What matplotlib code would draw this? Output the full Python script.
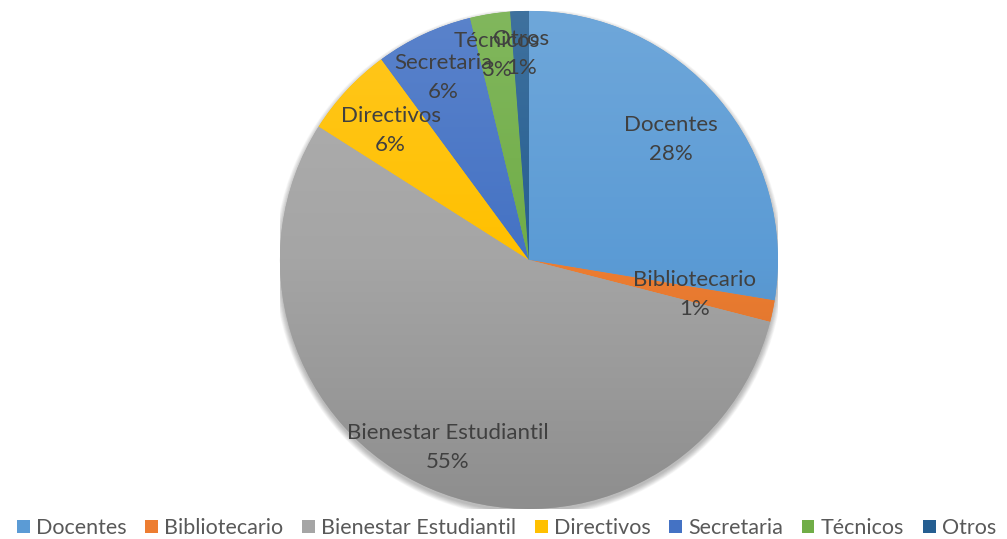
import numpy as np
import matplotlib.pyplot as plt
from matplotlib.colors import LinearSegmentedColormap, to_rgb
from matplotlib.patches import Circle, Patch

# data
labels = ['Docentes', 'Bibliotecario', 'Bienestar Estudiantil', 'Directivos',
          'Secretaria', 'Técnicos', 'Otros']
values = [27.6, 1.4, 55.0, 5.9, 6.3, 2.6, 1.2]
colors = ['#5B9BD5', '#ED7D31', '#A5A5A5', '#FFC000', '#4472C4', '#70AD47', '#255E91']
label_r = [0.75, 0.68, 0.82, 0.76, 0.81, 0.83, 0.83]

plt.rcParams['font.family'] = ['Lato', 'DejaVu Sans']

fig = plt.figure(figsize=(10.07, 5.39), dpi=100)
ax = fig.add_axes([0.278, 0.0557, 0.4945, 0.924])

# soft shadow under the pie
for i in range(12):
    ax.add_patch(Circle((0, -0.012), 1.0 + 0.002 * i, color='black',
                        alpha=0.025, lw=0, zorder=0))

wedges, _ = ax.pie(values, colors=colors, startangle=90, counterclock=False,
                   radius=1, wedgeprops=dict(lw=0))
ax.set_xlim(-1, 1)
ax.set_ylim(-1, 1)
ax.set_aspect('equal')
ax.axis('off')

# gradient fill (lighter top, darker bottom)
grad = np.linspace(0, 1, 256).reshape(-1, 1)
for w, c in zip(wedges, colors):
    rgb = np.array(to_rgb(c))
    top = rgb + (1 - rgb) * 0.12
    bot = rgb * 0.86
    cmap = LinearSegmentedColormap.from_list('g', [bot, rgb, top])
    im = ax.imshow(grad, cmap=cmap, extent=(-1, 1, -1, 1), origin='lower',
                   aspect='auto', zorder=2)
    im.set_clip_path(w)

total = sum(values)
for w, lab, v, r in zip(wedges, labels, values, label_r):
    ang = np.deg2rad((w.theta1 + w.theta2) / 2)
    ax.text(r * np.cos(ang), r * np.sin(ang), '%s\n%d%%' % (lab, round(v / total * 100)),
            ha='center', va='center', fontsize=16, color='#404040',
            linespacing=1.55, zorder=5)

handles = [Patch(facecolor=c, edgecolor='none') for c in colors]
fig.legend(handles, labels, loc='lower center', bbox_to_anchor=(0.503, -0.034), ncol=7,
           frameon=False, fontsize=15.5, labelcolor='#595959', handlelength=0.6,
           handleheight=0.6, handletextpad=0.3, columnspacing=0.85)

fig.savefig('out.png', dpi=100)
